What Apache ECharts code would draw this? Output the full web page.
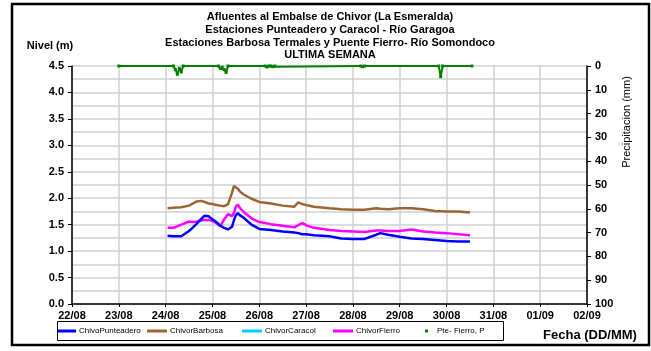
<!DOCTYPE html>
<html>
<head>
<meta charset="utf-8">
<style>
  html, body { margin: 0; padding: 0; background: #ffffff; }
  #chart { width: 651px; height: 351px; }
</style>
<script src="https://cdn.jsdelivr.net/npm/echarts@6/dist/echarts.min.js"></script>
</head>
<body>
<div id="chart"></div>
<script>
// Reference year for the DD/MM timestamps (not displayed)
const YEAR = 2013;

const titleLines = [
  'Afluentes al Embalse de Chivor (La Esmeralda)',
  'Estaciones Punteadero y Caracol - Río Garagoa',
  'Estaciones Barbosa Termales y Puente Fierro- Río Somondoco',
  'ULTIMA SEMANA'
];

// Day labels of the x axis, one per day
const dayLabels = ['22/08', '23/08', '24/08', '25/08', '26/08', '27/08',
                   '28/08', '29/08', '30/08', '31/08', '01/09', '02/09'];

// Sampling times of the level records (DD/MM HH:mm)
const levelTimes = [
  '24/08 01:00', '24/08 04:00', '24/08 08:00', '24/08 12:00', '24/08 14:00', '24/08 16:00',
  '24/08 18:00', '24/08 20:00', '24/08 22:00', '25/08 00:00', '25/08 02:00', '25/08 04:00',
  '25/08 06:00', '25/08 08:00', '25/08 10:00', '25/08 11:00', '25/08 12:00', '25/08 13:00',
  '25/08 14:00', '25/08 16:00', '25/08 20:00', '26/08 00:00', '26/08 06:00', '26/08 12:00',
  '26/08 18:00', '26/08 20:00', '26/08 22:00', '27/08 00:00', '27/08 04:00', '27/08 12:00',
  '27/08 18:00', '28/08 00:00', '28/08 06:00', '28/08 12:00', '28/08 14:00', '28/08 18:00',
  '29/08 00:00', '29/08 06:00', '29/08 12:00', '29/08 18:00', '30/08 00:00', '30/08 06:00',
  '30/08 12:00'
];

// River levels (m)
const punteadero = [
  1.29, 1.28, 1.28, 1.38, 1.45, 1.52, 1.60, 1.67, 1.66, 1.60, 1.55, 1.48,
  1.44, 1.41, 1.46, 1.58, 1.68, 1.72, 1.68, 1.63, 1.50, 1.42, 1.40, 1.37,
  1.35, 1.34, 1.32, 1.32, 1.30, 1.28, 1.24, 1.23, 1.23, 1.31, 1.34, 1.31,
  1.27, 1.24, 1.23, 1.21, 1.19, 1.18, 1.18
];
const barbosa = [
  1.81, 1.82, 1.83, 1.86, 1.90, 1.94, 1.95, 1.93, 1.90, 1.89, 1.87, 1.86,
  1.85, 1.89, 2.10, 2.23, 2.24, 2.18, 2.13, 2.07, 1.99, 1.93, 1.90, 1.86,
  1.84, 1.92, 1.89, 1.87, 1.84, 1.81, 1.79, 1.78, 1.78, 1.81, 1.80, 1.79,
  1.81, 1.81, 1.79, 1.76, 1.75, 1.75, 1.73
];
const caracol = [];
const fierro = [
  1.44, 1.44, 1.50, 1.56, 1.55, 1.56, 1.58, 1.59, 1.59, 1.57, 1.53, 1.47,
  1.60, 1.70, 1.66, 1.72, 1.84, 1.88, 1.82, 1.74, 1.62, 1.55, 1.51, 1.48,
  1.45, 1.49, 1.53, 1.49, 1.44, 1.40, 1.38, 1.37, 1.36, 1.39, 1.39, 1.38,
  1.38, 1.41, 1.37, 1.35, 1.34, 1.32, 1.30
];

// Rainfall at Puente Fierro (mm)
const precipTimes = [
  '23/08 00:00', '24/08 04:00', '24/08 05:00', '24/08 06:00', '24/08 07:00', '24/08 08:00',
  '24/08 09:00', '25/08 03:00', '25/08 04:00', '25/08 05:00', '25/08 06:00', '25/08 07:00',
  '25/08 08:00', '26/08 03:00', '26/08 04:00', '26/08 05:00', '26/08 06:00', '26/08 07:00',
  '26/08 08:00', '28/08 04:00', '28/08 05:00', '28/08 06:00', '29/08 20:00', '29/08 21:00',
  '29/08 22:00', '30/08 13:00'
];
const precipMm = [
  0, 0, 1.5, 3.5, 1.0, 2.5,
  0, 0, 1.0, 0.5, 1.5, 2.7,
  0, 0, 0.4, 0, 0, 0.3,
  0, 0, 0.3, 0, 0, 4.5,
  0, 0
];

const DAY = 86400000;
function toMs(s) {
  const [d, t] = s.split(' ');
  const [dd, mm] = d.split('/').map(Number);
  const [hh, mi] = t.split(':').map(Number);
  return Date.UTC(YEAR, mm - 1, dd, hh, mi);
}
function pairs(times, values) {
  return values.map((v, i) => [toMs(times[i]), v]);
}

const xMin = toMs('22/08 00:00');
const xMax = toMs('02/09 00:00');

const FONT = 'Liberation Sans, Arial, sans-serif';
const GRID_COLOR = '#d0d0d0';
const LINE_W = 2.5;

const chart = echarts.init(document.getElementById('chart'), null, { renderer: 'canvas' });

function legendItem(name, left, opts) {
  return Object.assign({
    data: [{ name: name, icon: 'rect' }],
    left: left,
    top: 327,
    padding: 0,
    itemWidth: 20,
    itemHeight: 3,
    textStyle: { fontFamily: FONT, fontSize: 8, color: '#000000', padding: [0, 0, 0, -2] },
    selectedMode: false
  }, opts || {});
}

const option = {
  animation: false,
  backgroundColor: '#ffffff',
  grid: { left: 72, right: 64, top: 66, bottom: 47, containLabel: false },
  legend: [
    legendItem('ChivoPunteadero', 58, { itemWidth: 18 }),
    legendItem('ChivorBarbosa', 147),
    legendItem('ChivorCaracol', 242),
    legendItem('ChivorFierro', 333),
    legendItem('Pte- Fierro, P', 425, { itemWidth: 3, itemHeight: 3, textStyle: { fontFamily: FONT, fontSize: 8, color: '#000000', padding: [0, 0, 0, 4] } })
  ],
  xAxis: {
    type: 'value',
    min: xMin,
    max: xMax,
    interval: DAY,
    axisLine: { show: true, lineStyle: { color: '#000000', width: 1.5 } },
    axisTick: { show: true, length: 3, lineStyle: { color: '#000000' } },
    axisLabel: {
      fontFamily: FONT, fontSize: 11, fontWeight: 'bold', color: '#000000', margin: 6,
      formatter: v => dayLabels[Math.round((v - xMin) / DAY)]
    },
    splitLine: { show: true, lineStyle: { color: GRID_COLOR, width: 1.5 } }
  },
  yAxis: [
    {
      type: 'value',
      min: 0,
      max: 4.5,
      interval: 0.5,
      axisLine: { show: true, lineStyle: { color: '#000000', width: 1.5 } },
      axisTick: { show: true, length: 4, lineStyle: { color: '#000000' } },
      axisLabel: {
        fontFamily: FONT, fontSize: 11, fontWeight: 'bold', color: '#000000', margin: 8,
        formatter: v => v.toFixed(1)
      },
      splitLine: { show: true, lineStyle: { color: GRID_COLOR, width: 1.5 } },
      minorTick: { show: false, splitNumber: 2 },
      minorSplitLine: { show: true, lineStyle: { color: GRID_COLOR, width: 1.5 } }
    },
    {
      type: 'value',
      position: 'right',
      inverse: true,
      min: 0,
      max: 100,
      interval: 10,
      axisLine: { show: true, lineStyle: { color: '#000000', width: 1.5 } },
      axisTick: { show: true, length: 4, lineStyle: { color: '#000000' } },
      axisLabel: { fontFamily: FONT, fontSize: 11, fontWeight: 'bold', color: '#000000', margin: 8 },
      splitLine: { show: false }
    }
  ],
  series: [
    {
      name: 'ChivoPunteadero', type: 'line', yAxisIndex: 0, symbol: 'none',
      data: pairs(levelTimes, punteadero),
      itemStyle: { color: '#0000ff' }, lineStyle: { color: '#0000ff', width: LINE_W }, z: 5
    },
    {
      name: 'ChivorBarbosa', type: 'line', yAxisIndex: 0, symbol: 'none',
      data: pairs(levelTimes, barbosa),
      itemStyle: { color: '#996633' }, lineStyle: { color: '#996633', width: LINE_W }, z: 3
    },
    {
      name: 'ChivorCaracol', type: 'line', yAxisIndex: 0, symbol: 'none',
      data: pairs(levelTimes, caracol),
      itemStyle: { color: '#00ccff' }, lineStyle: { color: '#00ccff', width: LINE_W }
    },
    {
      name: 'ChivorFierro', type: 'line', yAxisIndex: 0, symbol: 'none',
      data: pairs(levelTimes, fierro),
      itemStyle: { color: '#ff00ff' }, lineStyle: { color: '#ff00ff', width: LINE_W }, z: 4
    },
    {
      name: 'Pte- Fierro, P', type: 'line', yAxisIndex: 1,
      symbol: 'rect', symbolSize: 3, showSymbol: true,
      data: pairs(precipTimes, precipMm),
      itemStyle: { color: '#008000' }, lineStyle: { color: '#008000', width: 2 }, z: 6
    }
  ],
  graphic: [
    {
      type: 'rect', silent: true, z: 100,
      shape: { x: 12, y: 4, width: 637, height: 341 },
      style: { fill: 'none', stroke: '#000000', lineWidth: 2.5 }
    },
    {
      type: 'rect', silent: true, z: 50,
      shape: { x: 57.5, y: 321.5, width: 446, height: 19 },
      style: { fill: 'none', stroke: '#000000', lineWidth: 1 }
    },
    {
      type: 'text', silent: true, x: 330, y: 11,
      style: {
        text: titleLines.join('\n'), fontFamily: FONT, fontSize: 11, fontWeight: 'bold',
        fill: '#000000', align: 'center', verticalAlign: 'top', lineHeight: 12.7
      }
    },
    {
      type: 'text', silent: true, x: 50, y: 46,
      style: {
        text: 'Nivel (m)', fontFamily: FONT, fontSize: 11, fontWeight: 'bold',
        fill: '#000000', align: 'center', verticalAlign: 'middle'
      }
    },
    {
      type: 'text', silent: true, x: 627, y: 122, rotation: Math.PI / 2,
      style: {
        text: 'Precipitacion (mm)', fontFamily: FONT, fontSize: 11,
        fill: '#000000', align: 'center', verticalAlign: 'middle'
      }
    },
    {
      type: 'text', silent: true, x: 590, y: 335,
      style: {
        text: 'Fecha (DD/MM)', fontFamily: FONT, fontSize: 13, fontWeight: 'bold',
        fill: '#000000', align: 'center', verticalAlign: 'middle'
      }
    }
  ]
};

chart.setOption(option);
</script>
</body>
</html>
